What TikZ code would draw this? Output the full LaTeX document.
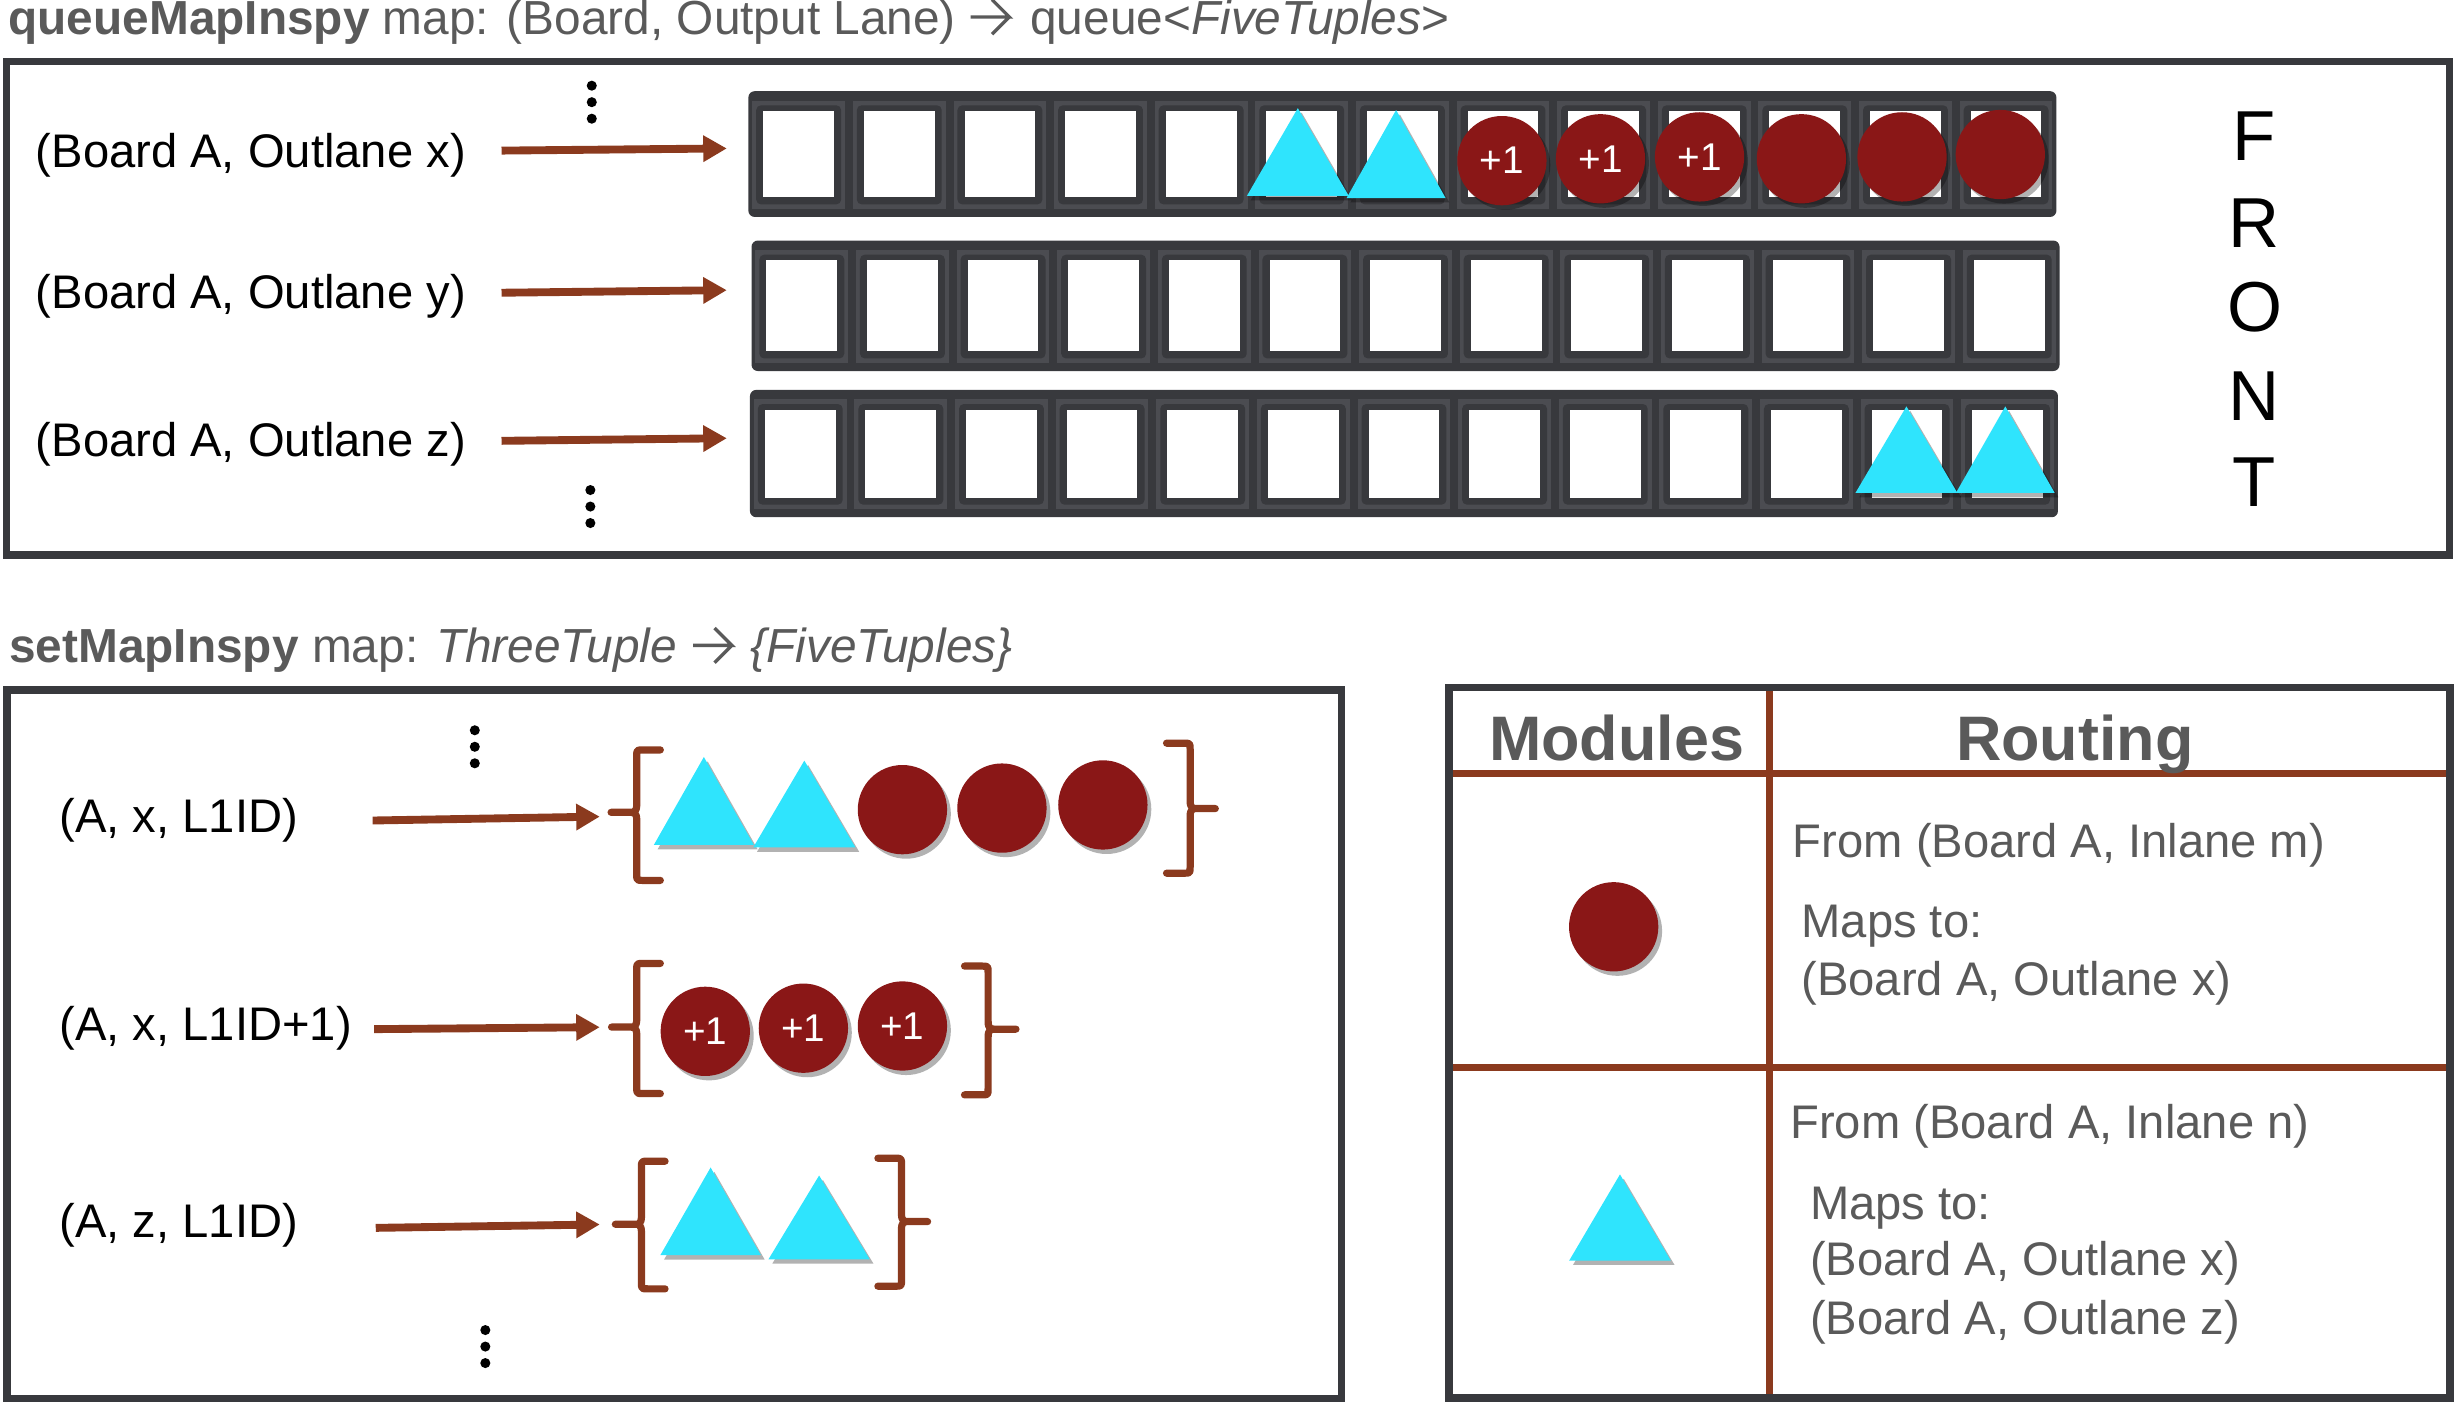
\documentclass[tikz,border=0pt]{standalone}
\usepackage{fontspec}
\setmainfont{Liberation Sans}
\usetikzlibrary{arrows.meta,shadows}
\definecolor{framec}{HTML}{38393D}
\definecolor{rimc}{HTML}{4B4C51}
\definecolor{rustc}{HTML}{8B3A1E}
\definecolor{beadc}{HTML}{8A1717}
\definecolor{aquac}{HTML}{2FE4FD}
\definecolor{greyt}{HTML}{5A5A5A}
\newcommand\fsz[1]{\fontsize{#1}{#1}\selectfont}
\tikzset{
  boxframe/.style={draw=framec, line width=2.3pt},
  arr/.style={draw=rustc, line width=2.5pt, -{Triangle[length=7.5pt,width=8pt]}},
  shad/.style={drop shadow={shadow xshift=1.2pt, shadow yshift=-1.4pt, opacity=0.3, fill=black}},
  bead/.style={circle, fill=beadc, inner sep=0pt, minimum size=28.4pt, shad, text=white, font=\fsz{12.3}},
  trif/.style={fill=aquac, shad},
  lab/.style={anchor=base west, inner sep=0pt, font=\fsz{15}},
  glab/.style={lab, text=greyt},
  ttl/.style={anchor=base west, inner sep=0pt, text=greyt, font=\fsz{15.2}},
  tarrow/.style={draw=greyt, line width=1.05pt, line join=miter},
  qrow/.style={fill=framec, rounded corners=2pt, inner sep=0pt, minimum width=416pt},
  bracep/.style={draw=rustc, line width=2.3pt, line join=round, line cap=round},
  tline/.style={draw=rustc, line width=2.2pt},
  letter/.style={anchor=base, inner sep=0pt, font=\fsz{22.5}},
}
\newcommand\qcells[3]{%
  \foreach \i in {0,...,12}{
    \pgfmathsetmacro\cx{#1+64*(\i+0.5)}
    \fill[rimc] (\cx-29.5,#2+6) rectangle (\cx+29.5,#3-5);
    \fill[framec, rounded corners=1.5pt] (\cx-27,#2+9) rectangle (\cx+27,#3-8);
    \fill[white] (\cx-22.5,#2+12.5) rectangle (\cx+22.5,#3-12.5);
  }}
\newcommand\mytri[4]{\fill[trif] (#1,#2) -- (#1+#4,#3) -- (#1-#4,#3) -- cycle;}
\newcommand\bracel[5]{%
  \draw[bracep] (#1+15,#2) -- (#1+4,#2) .. controls (#1,#2) .. (#1,#2+4) -- (#1,#4-5)
    .. controls (#1,#4) and (#1-2,#4) .. (#1-4,#4) -- (#5,#4) -- (#1-4,#4)
    .. controls (#1-2,#4) and (#1,#4) .. (#1,#4+5) -- (#1,#3-4) .. controls (#1,#3) .. (#1+4,#3) -- (#1+15,#3);}
\newcommand\bracer[5]{%
  \draw[bracep] (#1-15,#2) -- (#1-4,#2) .. controls (#1,#2) .. (#1,#2+4) -- (#1,#4-5)
    .. controls (#1,#4) and (#1+2,#4) .. (#1+4,#4) -- (#5,#4) -- (#1+4,#4)
    .. controls (#1+2,#4) and (#1,#4) .. (#1,#4+5) -- (#1,#3-4) .. controls (#1,#3) .. (#1-4,#3) -- (#1-15,#3);}
\newcommand\vdotsat[2]{\fill (#1,#2) circle (1.6pt); \fill (#1,#2+10.5) circle (1.6pt); \fill (#1,#2+21) circle (1.6pt);}
\newcommand\titlearrow[1]{\draw[tarrow] (#1) -- ++(12.3pt,0pt) -- ++(-5.5pt,5.5pt) ++(5.5pt,-5.5pt) -- ++(-5.5pt,-5.5pt);}
\begin{document}
\begin{tikzpicture}[x=0.5pt,y=-0.5pt]
\useasboundingbox (0,0) rectangle (1566,897);

% ---------- top panel ----------
\node[ttl] (title1a) at (5,21.8) {\textbf{queueMapInspy} map: (Board, Output Lane)};
\coordinate (ta1) at ([xshift=4.5pt,yshift=5.5pt]title1a.base east);
\titlearrow{ta1}
\node[ttl] (title1b) at ([xshift=18.8pt,yshift=-5.5pt]ta1) {queue<\textit{FiveTuples}>};
\draw[boxframe] (4,39) rectangle (1558,353);

\node[qrow, minimum height=40pt] (q1) at (892,98) {};
\node[qrow, minimum height=41.5pt] (q2) at (894,194.5) {};
\node[qrow, minimum height=40.5pt] (q3) at (893,288.5) {};
\qcells{476}{58}{138}
\qcells{478}{153}{236}
\qcells{477}{248}{329}

\node[lab] (l1) at (22.4,106.3) {(Board A, Outlane x)};
\node[lab] (l2) at (22.4,196.4) {(Board A, Outlane y)};
\node[lab] (l3) at (22.4,290.6) {(Board A, Outlane z)};
\coordinate (a1) at (319,95.8);
\coordinate (a2) at (319,186.2);
\coordinate (a3) at (319,280.4);
\draw[arr, shorten >=6.65pt] (a1) -- ([yshift=1.85pt]q1.west);
\draw[arr, shorten >=7.65pt] (a2) -- ([yshift=5.05pt]q2.west);
\draw[arr, shorten >=7.15pt] (a3) -- ([yshift=4.95pt]q3.west);

\vdotsat{376.4}{54.5}
\vdotsat{375.5}{311.7}

% row 1 contents
\mytri{825.5}{68.8}{124.6}{32.4}
\mytri{888}{70}{126}{31.5}
\node[bead] (r1) at (955.3,102.2) {+1};
\node[bead] (r2) at (1018,101) {+1};
\node[bead] (r3) at (1081,99.8) {+1};
\node[bead] (r4) at (1145.8,101) {};
\node[bead] (r5) at (1209.8,99.8) {};
\node[bead] (r6) at (1272.3,98.3) {};
% row 3 contents
\mytri{1212.6}{258.5}{313.5}{32.4}
\mytri{1275.5}{258.5}{313.5}{31.4}

\node[letter] (fF) at (1434,102.2) {F};
\node[letter] (fR) at (1434,157.2) {R};
\node[letter] (fO) at (1434,211) {O};
\node[letter] (fN) at (1434,267.6) {N};
\node[letter] (fT) at (1434,322.2) {T};

% ---------- bottom-left panel ----------
\node[ttl] (title2a) at (5.5,421.5) {\textbf{setMapInspy} map: \textit{ThreeTuple}};
\coordinate (ta2) at ([xshift=5pt,yshift=5.5pt]title2a.base east);
\titlearrow{ta2}
\node[ttl] (title2b) at ([xshift=18pt,yshift=-5.5pt]ta2) {\textit{\{FiveTuples\}}};
\draw[boxframe] (4.4,438.9) rectangle (853.5,889.7);

\node[lab] (s1) at (37.5,529.8) {(A, x, L1ID)};
\node[lab] (s2) at (37.5,662) {(A, x, L1ID+1)};
\node[lab] (s3) at (37.5,787) {(A, z, L1ID)};

\bracel{405}{477}{560}{516.7}{388.7}
\bracer{757}{472.7}{555.4}{514.3}{773}
\bracel{405}{612.8}{695.6}{653.3}{389}
\bracer{628.5}{614.5}{696.4}{654.6}{646.2}
\bracel{408}{738.6}{819.8}{778.7}{391.4}
\bracer{573.4}{736.7}{818.1}{777}{590}
\coordinate (g1) at (388.7,516.7);
\coordinate (g2) at (389,653.3);
\coordinate (g3) at (391.4,778.7);
\coordinate (b1) at (237,521.9);
\coordinate (b2) at (238,654.6);
\coordinate (b3) at (239,781);
\draw[arr, shorten >=3.6pt] (b1) -- ([yshift=-1.3pt]g1);
\draw[arr, shorten >=3.75pt] (b2) -- (g2);
\draw[arr, shorten >=4.95pt] (b3) -- (g3);

\mytri{447.7}{481.5}{537.4}{31.8}
\mytri{511.6}{483.8}{539}{32.5}
\node[bead] (m1) at (574,515) {};
\node[bead] (m2) at (637.3,514) {};
\node[bead] (m3) at (701.5,512) {};
\node[bead] (p1) at (448.6,656) {+1};
\node[bead] (p2) at (511,654) {+1};
\node[bead] (p3) at (574,652.6) {+1};
\mytri{452}{742.6}{798.4}{32}
\mytri{521}{747.7}{801}{32.2}

\vdotsat{302}{464.5}
\vdotsat{308.7}{846}

% ---------- table ----------
\draw[tline] (921.5,491.9) -- (1558.5,491.9);
\draw[tline] (921.5,678.8) -- (1558.5,678.8);
\draw[tline] (1125.4,437.3) -- (1125.4,889.3);
\draw[boxframe, line width=2.5pt] (921.5,437.3) rectangle (1558.5,889.3);

\node[anchor=base west, inner sep=0pt, text=greyt, font=\fsz{20}\bfseries] (hmod) at (946.7,483.8) {Modules};
\node[anchor=base west, inner sep=0pt, text=greyt, font=\fsz{20}\bfseries] (hrout) at (1243.8,483.8) {Routing};

\node[bead] (kc) at (1026.4,589.5) {};
\mytri{1030.4}{747}{801.8}{32.3}

\node[glab] (f1) at (1140,545.3) {From (Board A, Inlane m)};
\node[glab] (mp1) at (1145.5,596.3) {Maps to:};
\node[glab] (o1) at (1145.5,632.9) {(Board A, Outlane x)};
\node[glab] (f2) at (1138.4,724.4) {From (Board A, Inlane n)};
\node[glab] (mp2) at (1151,775.4) {Maps to:};
\node[glab] (o2) at (1151,811.4) {(Board A, Outlane x)};
\node[glab] (o3) at (1151,848.9) {(Board A, Outlane z)};
\end{tikzpicture}
\end{document}
